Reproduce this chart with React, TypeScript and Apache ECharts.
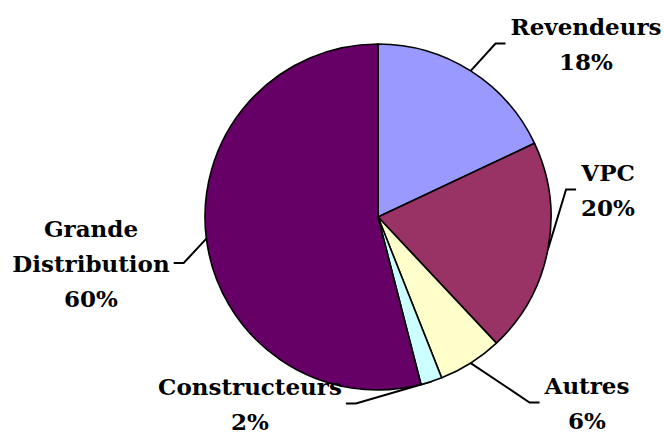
import React, { useEffect, useRef } from "react";
import * as echarts from "echarts";

const categories = ["Revendeurs", "VPC", "Autres", "Constructeurs", "Grande Distribution"];
const sliceValues = [18, 20, 6, 2, 54];
const percentLabels = ["18%", "20%", "6%", "2%", "60%"];
const labelNameLines = [["Revendeurs"], ["VPC"], ["Autres"], ["Constructeurs"], ["Grande", "Distribution"]];

const colors = ["#9999FF", "#993366", "#FFFFCC", "#CCFFFF", "#660066"];
// label layout: centre x, centre y of the first text line, side of the leader line
const labelLayoutPos: { x: number; y: number; side: "left" | "right" }[] = [
  { x: 586, y: 26, side: "right" },
  { x: 608, y: 172, side: "right" },
  { x: 587, y: 385, side: "right" },
  { x: 250, y: 386, side: "left" },
  { x: 91, y: 228, side: "left" },
];
const LINE_GAP = 35;
const SMALL_LH = 20;
const LARGE_LH = 2 * LINE_GAP - SMALL_LH;

const font = { fontFamily: "DejaVu Serif", fontWeight: "bold" as const, fontSize: 23, color: "#000" };

function lineStyleKey(indexFromBottom: number) {
  return indexFromBottom % 2 === 0 ? "s" : "l";
}

export default function App() {
  const ref = useRef<HTMLDivElement>(null);
  useEffect(() => {
    if (!ref.current) return;
    const chart = echarts.init(ref.current, null, { renderer: "svg" });
    chart.setOption({
      animation: false,
      backgroundColor: "#ffffff",
      series: [
        {
          type: "pie",
          center: [378, 217],
          radius: 173,
          startAngle: 90,
          clockwise: true,
          avoidLabelOverlap: false,
          itemStyle: { borderColor: "#000", borderWidth: 1.6 },
          data: categories.map((c, i) => ({
            name: c,
            value: sliceValues[i],
            itemStyle: { color: colors[i] },
          })),
          label: {
            show: true,
            formatter: (p: any) => {
              const lines = [...labelNameLines[p.dataIndex], percentLabels[p.dataIndex]];
              const n = lines.length;
              return lines.map((t, i) => `{${lineStyleKey(n - 1 - i)}|${t}}`).join("\n");
            },
            ...font,
            align: "center",
            rich: {
              s: { ...font, lineHeight: SMALL_LH },
              l: { ...font, lineHeight: LARGE_LH },
            },
          },
          labelLine: {
            show: true,
            length: 20,
            length2: 10,
            lineStyle: { color: "#000", width: 2 },
          },
          labelLayout: (params: any) => {
            const i = params.dataIndex;
            const pos = labelLayoutPos[i];
            const n = labelNameLines[i].length + 1;
            const firstLH = lineStyleKey(n - 1) === "s" ? SMALL_LH : LARGE_LH;
            const top = pos.y - firstLH / 2;
            const leaderY = pos.y + ((n - 1) * LINE_GAP) / 2;
            const w = params.labelRect.width;
            const p0 = params.labelLinePoints ? params.labelLinePoints[0] : [pos.x, leaderY];
            let p2: number[];
            let p1: number[];
            if (pos.side === "right") {
              p2 = [pos.x - w / 2 - 5, leaderY];
              p1 = [p2[0] - 10, leaderY];
            } else {
              p2 = [pos.x + w / 2 + 4, leaderY];
              p1 = [p2[0] + 10, leaderY];
            }
            return {
              x: pos.x,
              y: top,
              align: "center",
              verticalAlign: "top",
              labelLinePoints: [p0, p1, p2],
            };
          },
        },
      ],
    });
    return () => chart.dispose();
  }, []);
  return (
    <div
      ref={ref}
      style={{ position: "fixed", left: 0, top: 0, width: 664, height: 434 }}
    />
  );
}
